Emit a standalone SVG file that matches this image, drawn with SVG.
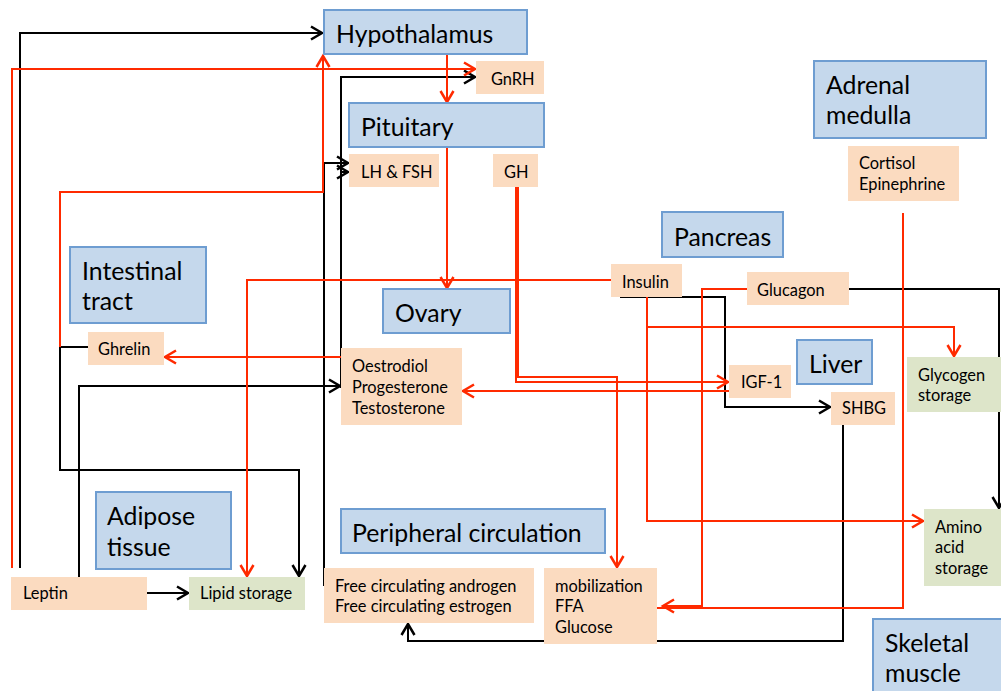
<svg xmlns="http://www.w3.org/2000/svg" width="1001" height="691" viewBox="0 0 1001 691">
<style>
.b{fill:#c5d8ec;stroke:#6e9dd1;stroke-width:2}
.p{fill:#fbdbc0}
.g{fill:#dde5c9}
text{font-family:Lato,"Liberation Sans",sans-serif;fill:#000}
.L{font-size:24.8px}
.S{font-size:16.4px}
.k{fill:none;stroke:#000;stroke-width:2}
.r{fill:none;stroke:#ff2a00;stroke-width:2}
</style>
<defs>
<marker id="ak" markerUnits="userSpaceOnUse" markerWidth="14" markerHeight="14" refX="11" refY="6.5" orient="auto" overflow="visible">
<path d="M0,0 L11,6.5 L0,13" fill="none" stroke="#000" stroke-width="2.5"/>
</marker>
<marker id="ar" markerUnits="userSpaceOnUse" markerWidth="14" markerHeight="14" refX="11" refY="6.5" orient="auto" overflow="visible">
<path d="M0,0 L11,6.5 L0,13" fill="none" stroke="#ff2a00" stroke-width="2.5"/>
</marker>
</defs>
<rect width="1001" height="691" fill="#fff"/>

<g id="connectors">
<path class="k" d="M20,568 V33 H322" marker-end="url(#ak)"/>
<path class="k" d="M341,388 V77 H475" marker-end="url(#ak)"/>
<path class="k" d="M341,172 H348" marker-end="url(#ak)"/>
<path class="k" d="M324,586 V163 H348" marker-end="url(#ak)"/>
<path class="k" d="M79,577 V386 H340" marker-end="url(#ak)"/>
<path class="k" d="M88,347 H60 V470 H299 V576" marker-end="url(#ak)"/>
<path class="k" d="M147,593 H188" marker-end="url(#ak)"/>
<path class="k" d="M620,297 H725 V407 H830" marker-end="url(#ak)"/>
<path class="k" d="M849,289 H999 V508" marker-end="url(#ak)"/>
<path class="k" d="M843,425 V641 H408 V624" marker-end="url(#ak)"/>

<path class="r" d="M12,568 V69 H475" marker-end="url(#ar)"/>
<path class="r" d="M60,347 V192 H323 V56" marker-end="url(#ar)"/>
<path class="r" d="M447,54 V102" marker-end="url(#ar)"/>
<path class="r" d="M447,147 V288" marker-end="url(#ar)"/>
<path class="r" d="M611,280 H247 V576" marker-end="url(#ar)"/>
<path class="r" d="M341,357 H165" marker-end="url(#ar)"/>
<path class="r" d="M518,187 V377 H617 V567" marker-end="url(#ar)"/>
<path class="r" d="M516,187 V382 H728" marker-end="url(#ar)"/>
<path class="r" d="M729,391 H463" marker-end="url(#ar)"/>
<path class="r" d="M647,297 V327 H954 V356" marker-end="url(#ar)"/>
<path class="r" d="M647,327 V521 H923" marker-end="url(#ar)"/>
<path class="r" d="M747,289 H702 V606 H663" marker-end="url(#ar)"/>
<path class="r" d="M903,213 V608 H632" marker-end="url(#ar)"/>
</g>

<g id="hypothalamus"><rect class="b" x="324" y="10" width="203" height="44"/><text class="L" x="336" y="43">Hypothalamus</text></g>
<g id="pituitary"><rect class="b" x="349" y="103" width="195" height="44"/><text class="L" x="361" y="136">Pituitary</text></g>
<g id="adrenal"><rect class="b" x="814" y="61" width="172" height="77"/><text class="L" x="826" y="94">Adrenal</text><text class="L" x="826" y="124">medulla</text></g>
<g id="pancreas"><rect class="b" x="662" y="212" width="121" height="45"/><text class="L" x="674" y="246">Pancreas</text></g>
<g id="intestinal"><rect class="b" x="70" y="247" width="136" height="76"/><text class="L" x="82" y="280">Intestinal</text><text class="L" x="82" y="310">tract</text></g>
<g id="ovary"><rect class="b" x="383" y="289" width="127" height="44"/><text class="L" x="395" y="322">Ovary</text></g>
<g id="liver"><rect class="b" x="797" y="340" width="75" height="44"/><text class="L" x="809" y="373">Liver</text></g>
<g id="adipose"><rect class="b" x="96" y="492" width="135" height="77"/><text class="L" x="107" y="525">Adipose</text><text class="L" x="107" y="556">tissue</text></g>
<g id="peripheral"><rect class="b" x="341" y="509" width="264" height="44"/><text class="L" x="352" y="542">Peripheral circulation</text></g>
<g id="skeletal"><rect class="b" x="873" y="619" width="140" height="90"/><text class="L" x="885" y="652">Skeletal</text><text class="L" x="885" y="682">muscle</text></g>

<g id="gnrh"><rect class="p" x="476" y="61" width="68" height="33"/><text class="S" x="491" y="85">GnRH</text></g>
<g id="lhfsh"><rect class="p" x="349" y="154" width="90" height="33"/><text class="S" x="361" y="178">LH &amp; FSH</text></g>
<g id="gh"><rect class="p" x="493" y="154" width="45" height="33"/><text class="S" x="504" y="178">GH</text></g>
<g id="cortisol"><rect class="p" x="848" y="146" width="111" height="55"/><text class="S" x="859" y="169">Cortisol</text><text class="S" x="859" y="190">Epinephrine</text></g>
<g id="insulin"><rect class="p" x="611" y="264" width="71" height="33"/><text class="S" x="622" y="288">Insulin</text></g>
<g id="glucagon"><rect class="p" x="747" y="272" width="102" height="33"/><text class="S" x="757" y="296">Glucagon</text></g>
<g id="ghrelin"><rect class="p" x="88" y="332" width="76" height="33"/><text class="S" x="98" y="355">Ghrelin</text></g>
<g id="steroids"><rect class="p" x="341" y="348" width="121" height="77"/><text class="S" x="352" y="372">Oestrodiol</text><text class="S" x="352" y="393">Progesterone</text><text class="S" x="352" y="414">Testosterone</text></g>
<g id="igf1"><rect class="p" x="729" y="365" width="62" height="33"/><text class="S" x="741" y="388">IGF-1</text></g>
<g id="shbg"><rect class="p" x="831" y="392" width="64" height="33"/><text class="S" x="842" y="414">SHBG</text></g>
<g id="leptin"><rect class="p" x="11" y="577" width="136" height="33"/><text class="S" x="23" y="599">Leptin</text></g>
<g id="freecirc"><rect class="p" x="324" y="568" width="210" height="55"/><text class="S" x="335" y="592">Free circulating androgen</text><text class="S" x="335" y="612">Free circulating estrogen</text></g>
<g id="mobilization"><rect class="p" x="544" y="568" width="113" height="76"/><text class="S" x="555" y="592">mobilization</text><text class="S" x="555" y="612">FFA</text><text class="S" x="555" y="633">Glucose</text></g>

<g id="lipid"><rect class="g" x="189" y="577" width="116" height="33"/><text class="S" x="200" y="599">Lipid storage</text></g>
<g id="glycogen"><rect class="g" x="907" y="357" width="100" height="55"/><text class="S" x="918" y="381">Glycogen</text><text class="S" x="918" y="401">storage</text></g>
<g id="amino"><rect class="g" x="924" y="509" width="80" height="77"/><text class="S" x="935" y="533">Amino</text><text class="S" x="935" y="553">acid</text><text class="S" x="935" y="574">storage</text></g>
</svg>
